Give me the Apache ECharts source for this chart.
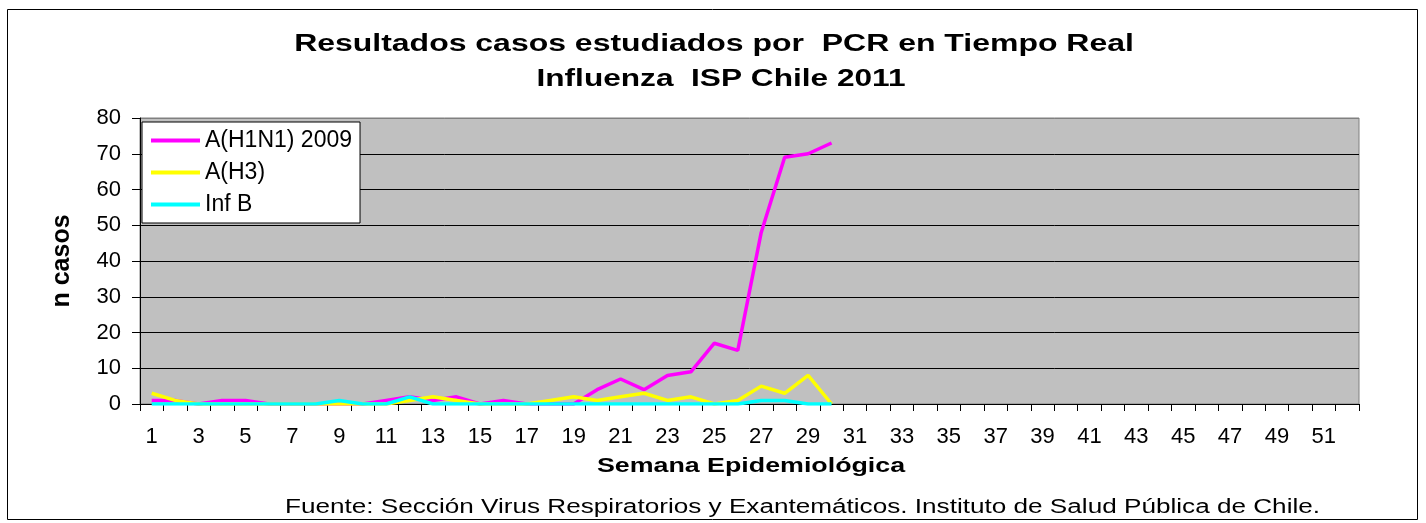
<!DOCTYPE html>
<html>
<head>
<meta charset="utf-8">
<script src="https://cdn.jsdelivr.net/npm/echarts@6/dist/echarts.min.js"></script>
<style>
html,body{margin:0;padding:0;background:#ffffff;}
#c{width:1426px;height:523px;}
</style>
</head>
<body>
<div id="c"></div>
<script>
// ---- data ----
const weeks = ['1','2','3','4','5','6','7','8','9','10','11','12','13','14','15','16','17','18','19','20',
  '21','22','23','24','25','26','27','28','29','30','31','32','33','34','35','36','37','38','39','40',
  '41','42','43','44','45','46','47','48','49','50','51','52'];
const h1n1 = [1,1,0,1,1,0,0,0,0,0,1,2,1,2,0,1,0,0,0,4,7,4,8,9,17,15,48,69,70,73];
const h3   = [3,1,0,0,0,0,0,0,0,0,0,1,2,1,0,0,0,1,2,1,2,3,1,2,0,1,5,3,8,0];
const infB = [0,0,0,0,0,0,0,0,1,0,0,2,0,0,0,0,0,0,0,0,0,0,0,0,0,0,1,1,0,0];
const seriesNames = ['A(H1N1) 2009','A(H3)','Inf B'];
const seriesColors = ['#FF00FF','#FFFF00','#00FFFF'];
const titleLines = ['Resultados casos estudiados por  PCR en Tiempo Real','Influenza  ISP Chile 2011'];
const xName = 'Semana Epidemiológica';
const yName = 'n casos';
const sourceText = 'Fuente: Sección Virus Respiratorios y Exantemáticos. Instituto de Salud Pública de Chile.';
const yMin = 0, yMax = 80, yStep = 10;

const FONT = '"Liberation Sans", Arial, Helvetica, sans-serif';
const chart = echarts.init(document.getElementById('c'), null, {renderer: 'canvas'});

function txt(text, x, y, size, bold, sx) {
  return {
    type: 'text', x: x, y: y, scaleX: sx, silent: true, z: 10,
    style: {
      text: text, fill: '#000',
      font: (bold ? 'bold ' : '') + size + 'px ' + FONT,
      align: 'center', verticalAlign: 'middle',
      textAlign: 'center', textVerticalAlign: 'middle'
    }
  };
}

const splitColors = [];
for (let v = yMin; v <= yMax; v += yStep) splitColors.push(v === yMax ? '#808080' : '#000000');

const option = {
  animation: false,
  backgroundColor: '#ffffff',
  textStyle: {fontFamily: FONT},
  graphic: [
    {type: 'rect', silent: true, z: -10,
     shape: {x: 7.5, y: 9.5, width: 1410, height: 510},
     style: {fill: 'transparent', stroke: '#000', lineWidth: 1}},
    txt(titleLines[0], 714, 45, 23, true, 1.39),
    txt(titleLines[1], 721, 80, 23, true, 1.375),
    txt(xName, 751, 466, 21, true, 1.276),
    txt(sourceText, 802.5, 508, 19.5, false, 1.34)
  ],
  grid: {
    left: 140, right: 67, top: 118, bottom: 119,
    show: true, backgroundColor: '#C0C0C0', borderColor: '#808080', borderWidth: 1
  },
  legend: {
    orient: 'vertical', left: 142, top: 122,
    padding: [7, 8, 7, 9],
    icon: 'rect',
    itemWidth: 49, itemHeight: 4, itemGap: 9,
    backgroundColor: '#ffffff', borderColor: '#000', borderWidth: 1,
    textStyle: {fontSize: 23, lineHeight: 22, color: '#000', fontFamily: FONT},
    data: seriesNames
  },
  xAxis: {
    type: 'category', data: weeks, boundaryGap: true,
    axisLine: {show: true, lineStyle: {color: '#000', width: 1}},
    axisTick: {show: true, interval: 0, length: 7, lineStyle: {color: '#000'}},
    axisLabel: {interval: 1, margin: 22, fontSize: 22, color: '#000', fontFamily: FONT},
    splitLine: {show: false}
  },
  yAxis: {
    type: 'value', min: yMin, max: yMax, interval: yStep,
    name: yName, nameLocation: 'middle', nameGap: 65, nameRotate: 90,
    nameTextStyle: {fontSize: 25, fontWeight: 'bold', color: '#000', fontFamily: FONT},
    axisLine: {show: true, lineStyle: {color: '#000', width: 1}},
    axisTick: {show: true, length: 8, lineStyle: {color: '#000'}},
    axisLabel: {margin: 19, fontSize: 22, color: '#000', fontFamily: FONT},
    splitLine: {show: true, lineStyle: {color: splitColors, width: 1}}
  },
  series: [
    {name: seriesNames[0], type: 'line', data: h1n1, symbol: 'none', color: seriesColors[0],
     lineStyle: {width: 3.5, color: seriesColors[0]}},
    {name: seriesNames[1], type: 'line', data: h3, symbol: 'none', color: seriesColors[1],
     lineStyle: {width: 3.5, color: seriesColors[1]}},
    {name: seriesNames[2], type: 'line', data: infB, symbol: 'none', color: seriesColors[2],
     lineStyle: {width: 3.5, color: seriesColors[2]}}
  ]
};
chart.setOption(option);
</script>
</body>
</html>
